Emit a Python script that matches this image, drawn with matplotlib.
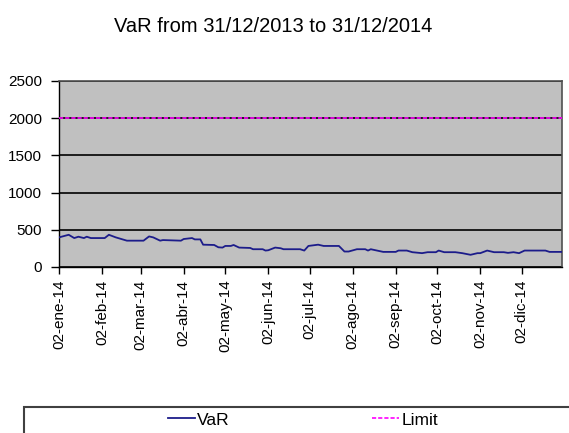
import matplotlib
matplotlib.use("Agg")
import matplotlib.pyplot as plt
import matplotlib.ticker as mticker
import matplotlib.dates as mdates
import pandas as pd
from matplotlib.patches import Rectangle
from matplotlib.lines import Line2D

plt.rcParams['font.family'] = ['Liberation Sans', 'DejaVu Sans']

# VaR series
var_dates = ["2014-01-02", "2014-01-09", "2014-01-13", "2014-01-16", "2014-01-20",
             "2014-01-22", "2014-01-25", "2014-02-04", "2014-02-07", "2014-02-12",
             "2014-02-20", "2014-03-04", "2014-03-08", "2014-03-11", "2014-03-16",
             "2014-03-18", "2014-03-31", "2014-04-02", "2014-04-08", "2014-04-10",
             "2014-04-14", "2014-04-16", "2014-04-24", "2014-04-27", "2014-04-30",
             "2014-05-02", "2014-05-06", "2014-05-08", "2014-05-12", "2014-05-20",
             "2014-05-22", "2014-05-29", "2014-05-31", "2014-06-02", "2014-06-07",
             "2014-06-11", "2014-06-13", "2014-06-25", "2014-06-28", "2014-07-01",
             "2014-07-08", "2014-07-12", "2014-07-23", "2014-07-27", "2014-07-30",
             "2014-08-05", "2014-08-11", "2014-08-13", "2014-08-15", "2014-08-24",
             "2014-09-02", "2014-09-04", "2014-09-10", "2014-09-14", "2014-09-21",
             "2014-09-25", "2014-10-01", "2014-10-03", "2014-10-07", "2014-10-15",
             "2014-10-20", "2014-10-26", "2014-10-31", "2014-11-02", "2014-11-07",
             "2014-11-12", "2014-11-19", "2014-11-22", "2014-11-26", "2014-11-30",
             "2014-12-04", "2014-12-06", "2014-12-19", "2014-12-22", "2014-12-31"]
var_values = [398, 433, 389, 407, 389,
              407, 389, 389, 433, 398,
              354, 354, 411, 398, 354,
              362, 354, 376, 389, 371,
              371, 300, 296, 265, 261,
              283, 283, 296, 261, 256,
              239, 239, 221, 225, 261,
              252, 239, 239, 221, 283,
              300, 283, 283, 208, 208,
              239, 239, 221, 239, 203,
              203, 221, 221, 199, 186,
              199, 199, 221, 199, 199,
              186, 164, 186, 186, 221,
              199, 199, 190, 199, 186,
              221, 221, 221, 203, 203]

limit_dates = ["2014-01-02", "2014-12-31"]
limit_values = [2000, 2000]

tick_dates = ["2014-01-02", "2014-02-02", "2014-03-02", "2014-04-02", "2014-05-02",
              "2014-06-02", "2014-07-02", "2014-08-02", "2014-09-02", "2014-10-02",
              "2014-11-02", "2014-12-02"]
tick_labels = ["02-ene-14", "02-feb-14", "02-mar-14", "02-abr-14", "02-may-14",
               "02-jun-14", "02-jul-14", "02-ago-14", "02-sep-14", "02-oct-14",
               "02-nov-14", "02-dic-14"]
y_ticks = [0, 500, 1000, 1500, 2000, 2500]

W, H = 569, 433
fig = plt.figure(figsize=(W / 100, H / 100), dpi=100)
ax = fig.add_axes([59 / W, 1 - 267 / H, (562 - 59) / W, (267 - 81) / H])
ax.set_facecolor('#c0c0c0')

ax.plot(pd.to_datetime(var_dates), var_values, color='#1c1c8a', lw=1.3, zorder=3)
ax.plot(pd.to_datetime(limit_dates), limit_values, color='#ff00ff', lw=1.2,
        linestyle=(0, (2.5, 1.2)), zorder=3)

ax.set_xlim(pd.Timestamp("2014-01-02"), pd.Timestamp("2014-12-31"))
ax.set_ylim(0, 2500)
ax.set_yticks(y_ticks)
ax.xaxis.set_major_locator(mticker.FixedLocator(mdates.date2num(pd.to_datetime(tick_dates))))
ax.xaxis.set_major_formatter(mticker.FixedFormatter(tick_labels))

ax.yaxis.grid(True, color='black', lw=1.2)
ax.set_axisbelow(True)
for side in ['top', 'right']:
    ax.spines[side].set_color('#505050')
    ax.spines[side].set_linewidth(1.2)
for side in ['left', 'bottom']:
    ax.spines[side].set_color('black')
    ax.spines[side].set_linewidth(1.0)

ax.tick_params(axis='y', direction='out', length=6, width=1, pad=6, labelsize=11)
ax.tick_params(axis='x', direction='out', length=5, width=1, pad=4, labelsize=11,
               labelrotation=90)

fig.text(273 / W, 1 - 26 / H, "VaR from 31/12/2013 to 31/12/2014",
         ha='center', va='center', fontsize=14.5)

# legend box (cut off by the figure edges)
fig.patches.append(Rectangle((23.5 / W, -0.2), 1.0, 0.2 + (433 - 407) / H,
                             transform=fig.transFigure, fill=False,
                             ec='#404040', lw=1.5))
handles = [Line2D([], [], color='#1c1c8a', lw=1.3),
           Line2D([], [], color='#ff00ff', lw=1.2, linestyle=(0, (2.5, 1.2)))]
fig.legend(handles, ["VaR", "Limit"], loc='center',
           bbox_to_anchor=(303 / W, 1 - 420 / H), ncol=2, frameon=False,
           fontsize=12.5, handlelength=1.55, handletextpad=0.12,
           columnspacing=8.2, borderpad=0, borderaxespad=0)

fig.savefig("out.png", dpi=100)
